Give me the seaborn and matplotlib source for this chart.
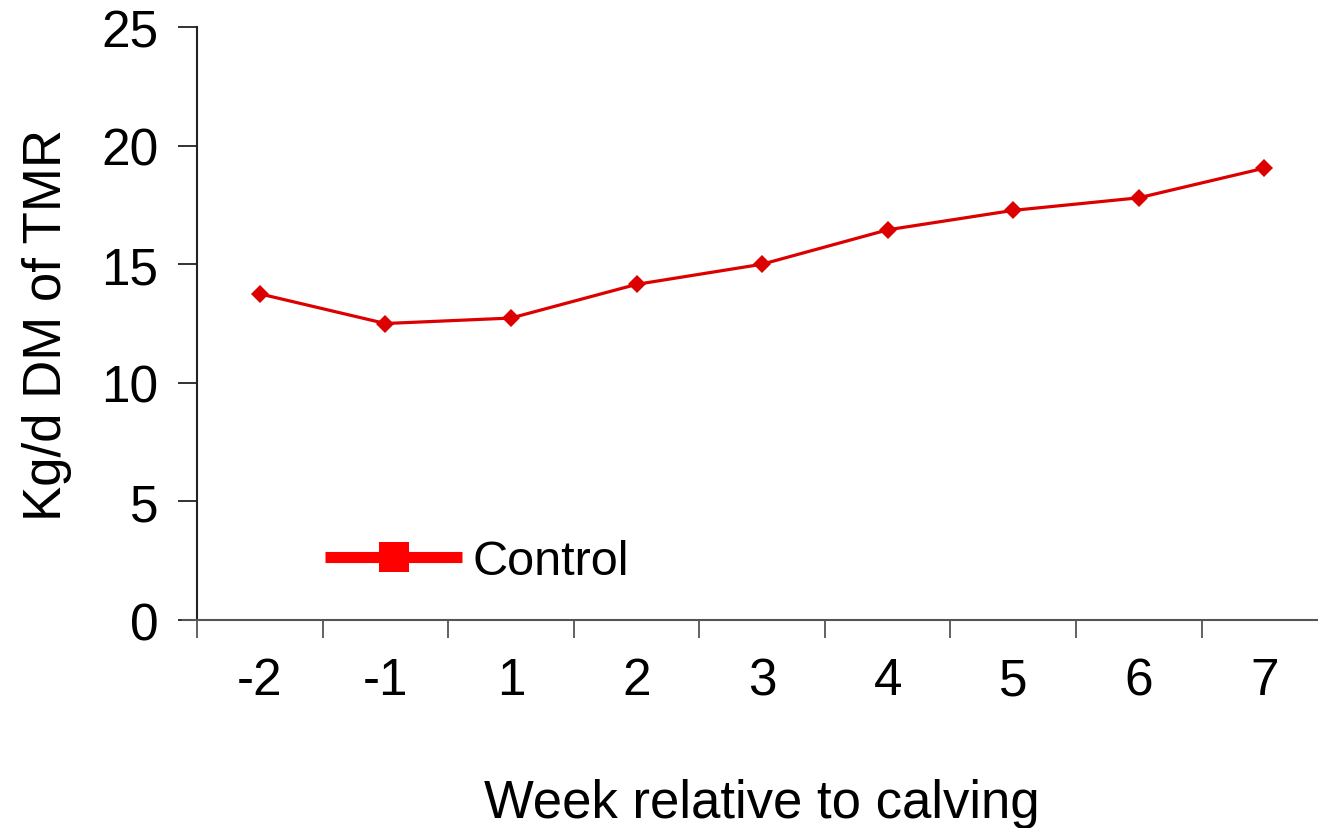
import numpy as np
import pandas as pd
import matplotlib
matplotlib.use("Agg")
import matplotlib.pyplot as plt
from matplotlib.lines import Line2D
import seaborn as sns

# data
weeks = ["-2", "-1", "1", "2", "3", "4", "5", "6", "7"]
control = [13.75, 12.5, 12.73, 14.15, 15.0, 16.45, 17.27, 17.8, 19.05]
y_ticks = [0, 5, 10, 15, 20, 25]

df = pd.DataFrame({"week": weeks, "intake": control})

sns.set_style("white")
plt.rcParams["font.family"] = ["Liberation Sans", "DejaVu Sans"]
plt.rcParams["text.color"] = "black"
plt.rcParams["xtick.color"] = "black"
plt.rcParams["ytick.color"] = "black"
plt.rcParams["axes.labelcolor"] = "black"

fig = plt.figure(figsize=(13.18, 8.29), dpi=100)
ax = fig.add_axes([0.1495, 0.2509, 0.8574, 0.7153])

sns.lineplot(data=df, x="week", y="intake", ax=ax, color="#DD0000",
             linewidth=2.3, marker="D", markersize=9.5, markeredgewidth=0,
             legend=False)

ax.set_xlim(-0.5, len(weeks) - 0.5)
ax.set_ylim(0, 25)
ax.set_yticks(y_ticks)
ax.set_xticks(range(len(weeks)))
ax.set_xticklabels(weeks)
ax.set_xticks(np.arange(-0.5, len(weeks), 1.0), minor=True)
ax.tick_params(axis="x", which="major", length=0, pad=26, labelsize=37,
               bottom=True)
ax.tick_params(axis="x", which="minor", length=13, width=1.3, color="#555555",
               direction="out", bottom=True)
ax.tick_params(axis="y", length=14, width=1.3, direction="out", labelsize=37,
               pad=14, color="#222222", left=True)

for side in ["top", "right"]:
    ax.spines[side].set_visible(False)
ax.spines["left"].set_color("#222222")
ax.spines["left"].set_linewidth(1.5)
ax.spines["bottom"].set_color("#555555")
ax.spines["bottom"].set_linewidth(1.5)
ax.spines["bottom"].set_bounds(-0.61, len(weeks) - 0.5)

ax.set_xlabel("Week relative to calving", fontsize=38)
ax.set_ylabel("Kg/d DM of TMR", fontsize=38)
ax.xaxis.set_label_coords(0.5, -0.266)
ax.yaxis.set_label_coords(-0.111, 0.5)

handle = Line2D([], [], color="#FF0000", linewidth=8, marker="s",
                markersize=21, markeredgewidth=0, solid_capstyle="butt")
ax.legend([handle], ["Control"], loc="center left",
          bbox_to_anchor=(0.113, 0.098), frameon=False, fontsize=35,
          handlelength=2.83, handletextpad=0.2, borderpad=0, borderaxespad=0)

fig.savefig("out.png", dpi=100)
